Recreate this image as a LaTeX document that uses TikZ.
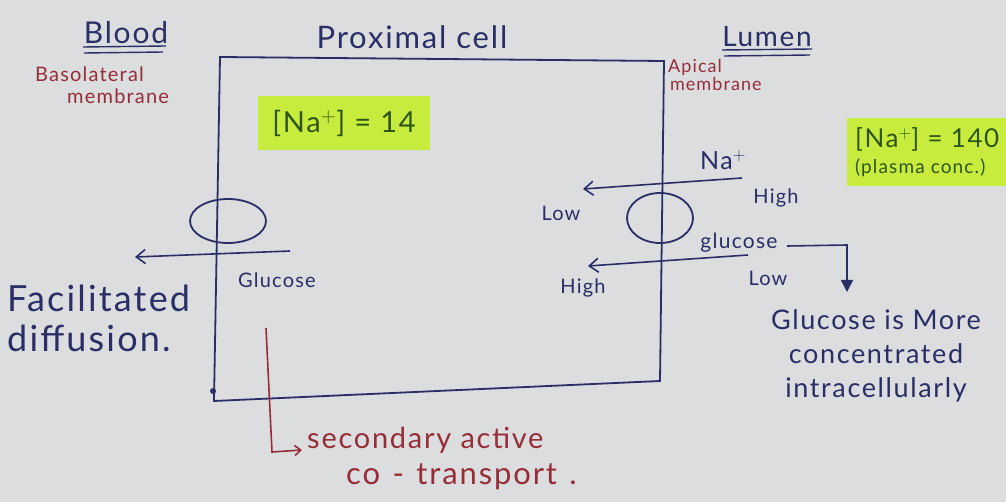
\documentclass[tikz,border=0pt]{standalone}
\usepackage{fontspec}
\setmainfont{Lato}[LetterSpace=6]
\usetikzlibrary{arrows.meta,shapes.geometric}
\definecolor{bg}{RGB}{219,221,223}
\definecolor{ink}{RGB}{42,46,102}
\definecolor{redink}{RGB}{150,45,55}
\definecolor{greenink}{RGB}{45,85,25}
\definecolor{hilite}{RGB}{200,236,62}
\tikzset{
  lbl/.style={text=ink, inner sep=1pt, font=\fontsize{#1}{#1}\selectfont},
  lbl/.default=22,
  rlbl/.style={text=redink, inner sep=1pt, font=\fontsize{#1}{#1}\selectfont},
  rlbl/.default=18,
  conc/.style={fill=hilite, text=greenink, inner sep=5pt},
  wall/.style={draw=ink, line width=1.8pt},
  inkline/.style={draw=ink, line width=1.6pt},
  arr/.style={inkline, -{Straight Barb[length=9pt,width=14pt,line width=1.6pt]}},
  uline/.style={draw=ink, line width=1.4pt},
  trans/.style={draw=ink, line width=1.8pt, ellipse, inner sep=0pt}
}
\begin{document}
\begin{tikzpicture}[x=1pt,y=-1pt]
\useasboundingbox (0,0) rectangle (1006,502);
\fill[bg] (0,0) rectangle (1006,502);
% titles
\node[lbl=30] (blood) at (126,33) {Blood};
\node[lbl=31] (prox) at (412,37) {Proximal cell};
\node[lbl=28] (lumen) at (767,37) {Lumen};
\draw[uline] (83,47) -- (166,46);
\draw[uline] (84,53) -- (163,52);
\draw[uline] (722,50) -- (812,49);
\draw[uline] (724,56) -- (810,55);
% membranes labels
\node[rlbl=20, align=left, anchor=north west] (baso) at (34,66) {Basolateral\\[2pt]\hspace*{1.6em}membrane};
\node[rlbl=18, align=left, anchor=north west] (apical) at (667,58) {Apical\\\hspace*{0.1em}membrane};
% cell box
\coordinate (tl) at (220,57);
\coordinate (tr) at (664,61);
\coordinate (br) at (660,381);
\coordinate (bl) at (214,401);
\draw[wall] (tl) -- (tr) -- (br) -- (bl) -- cycle;
\fill[ink] (213,391) circle (3pt);
% concentrations
\node[conc, font=\fontsize{29}{29}\selectfont, minimum height=54pt, minimum width=172pt] (naIn) at (344,123) {[Na$^{+}$] = 14};
\node[conc, align=left, anchor=west, font=\fontsize{26}{26}\selectfont, minimum width=160pt, minimum height=68pt] (naOut) at (847,152) {[Na$^{+}$] = 140\\[0pt]{\fontsize{19}{19}\selectfont (plasma conc.)}};
% left transporter
\node[trans, minimum width=76pt, minimum height=44pt] (glut) at (228,221) {};
\coordinate (gA) at (290,251);
\coordinate (gB) at (135,257);
\draw[arr] (gA) -- (gB);
\node[lbl=20] (glL) at (277,280) {Glucose};
\node[lbl=36, align=left, anchor=west] (facil) at (6,318) {Facilitated\\[4pt]diffusion.};
% right transporter
\node[trans, minimum width=66pt, minimum height=50pt] (sglt) at (660,218) {};
\coordinate (nA) at (742,178);
\coordinate (nB) at (583,189);
\draw[arr] (nA) -- (nB);
\node[lbl=25] (naLbl) at (723,160) {Na$^{+}$};
\node[lbl=20] (hi1) at (776,198) {High};
\node[lbl=20] (lo1) at (561,213) {Low};
\coordinate (cA) at (748,255);
\coordinate (cB) at (588,266);
\draw[arr] (cA) -- (cB);
\node[lbl=21] (glR) at (739,243) {glucose};
\node[lbl=20] (lo2) at (768,278) {Low};
\node[lbl=20] (hi2) at (583,288) {High};
% bent arrow to note
\coordinate (bA) at (787,246);
\coordinate (bC) at (847,245);
\node[lbl=26, align=center, font=\fontsize{27}{34}\selectfont] (note) at (876,356) {Glucose is More\\concentrated\\intracellularly};
\draw[inkline, -{Triangle[length=12pt,width=12pt]}] (bA) -- (bC) -- (847,292);
% secondary active co-transport
\coordinate (rA) at (266,328);
\coordinate (rB) at (272,452);
\coordinate (rC) at (302,450);
\draw[draw=redink, line width=1.6pt, -{Straight Barb[length=6pt,width=10pt,line width=1.6pt]}] (rA) -- (rB) -- (rC);
\node[rlbl=29, anchor=west] (sec) at (306,440) {secondary active};
\node[rlbl=31, anchor=west] (cot) at (345,477) {co\hspace{0.4em}-\hspace{0.4em}transport\hspace{0.4em}.};
\end{tikzpicture}
\end{document}
